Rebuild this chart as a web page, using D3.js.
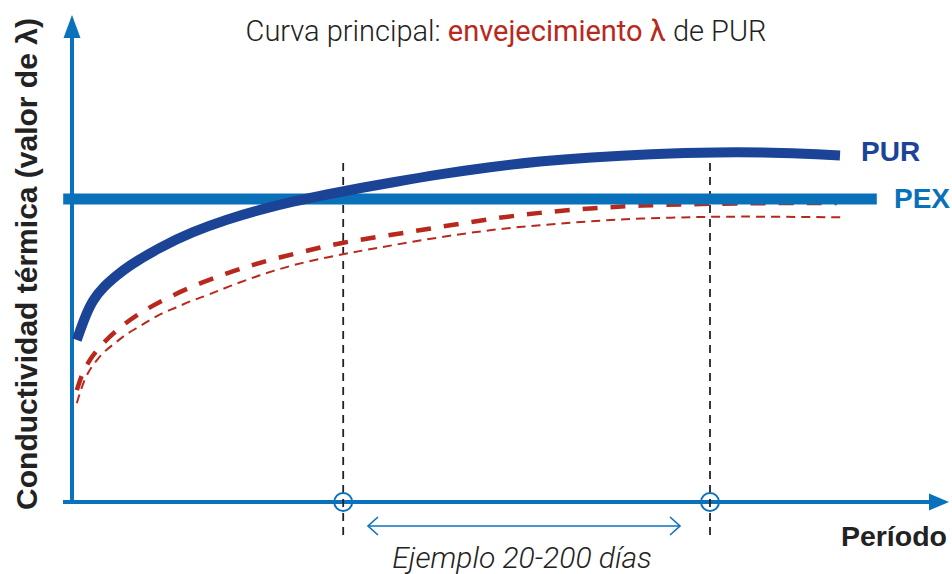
<!DOCTYPE html>
<html>
<head>
<meta charset="utf-8">
<script src="https://cdn.jsdelivr.net/npm/d3@7"></script>
<style>
  html, body { margin: 0; padding: 0; background: #fff; }
  svg { display: block; }
</style>
</head>
<body>
<svg id="chart" width="952" height="574"></svg>
<script>
// ---------------- DATA ----------------
// Period (arbitrary units, 0-100) and thermal conductivity (relative, 0-100)
const purX   = [0.6, 1.6, 2.6, 3.9, 5.6, 6.9, 11.0, 15.1, 19.4, 23.5, 27.6, 31.9, 36.0, 39.75, 46.0, 52.25, 58.5, 64.75, 72.25, 80.6, 88.9, 96.0];
const purY   = [33.75, 38.5, 42.1, 44.8, 47.2, 49.0, 53.1, 56.3, 58.9, 60.9, 62.6, 64.1, 65.4, 66.5, 68.3, 69.8, 71.0, 71.8, 72.5, 72.9, 72.8, 72.2];

const pexX   = [-1.1, 100.6];
const pexY   = [63.1, 63.1];

const agingThickX = [0.6, 1.6, 3.9, 6.6, 9.5, 12.6, 16.0, 19.4, 22.6, 26.0, 29.75, 33.5, 39.75, 46.0, 52.25, 58.5, 64.75, 71.0, 78.5, 87.25, 95.6];
const agingThickY = [23.3, 28.5, 33.3, 37.3, 40.4, 43.1, 45.6, 47.7, 49.4, 51.0, 52.5, 54.0, 55.6, 57.3, 59.0, 60.3, 61.2, 61.8, 62.1, 62.3, 62.3];

const agingThinX = [0.6, 1.6, 2.6, 3.9, 5.4, 6.6, 8.1, 9.75, 11.25, 12.9, 15.1, 16.4, 19.4, 23.5, 27.6, 31.9, 36.0, 39.75, 46.0, 52.25, 58.5, 64.75, 71.0, 78.5, 84.75, 96.6];
const agingThinY = [20.6, 26.0, 28.5, 31.25, 33.1, 34.8, 36.25, 37.9, 39.4, 40.4, 42.1, 42.7, 44.8, 47.3, 49.4, 51.0, 52.3, 53.4, 55.2, 56.7, 57.7, 58.5, 59.1, 59.4, 59.5, 59.3];

const markerX     = [33.9, 79.75];           // 20 días, 200 días
const markerTop   = 70.6;
const markerBot   = -7.3;
const rangeArrowX = [37, 76];
const rangeArrowY = -5;

const seriesLabels = ["PUR", "PEX"];
const titleParts   = ["Curva principal: ", "envejecimiento λ", " de PUR"];
const yAxisLabel   = "Conductividad térmica (valor de λ)";
const xAxisLabel   = "Período";
const rangeLabel   = "Ejemplo 20-200 días";

// ---------------- SETUP ----------------
const svg = d3.select("#chart");
const x = d3.scaleLinear().domain([0, 100]).range([72, 872]);
const y = d3.scaleLinear().domain([0, 100]).range([502, 22]);

const C_AXIS = "#0a72bd";
const C_PEX  = "#0871b9";
const C_PUR  = "#1b4496";
const C_RED  = "#b8281d";
const C_TEXT = "#222222";

const zip = (a, b) => a.map((v, i) => [v, b[i]]);
const line = d3.line().x(d => x(d[0])).y(d => y(d[1])).curve(d3.curveBasis);

// ---------------- AXES ----------------
const axisG = svg.append("g");
axisG.append("line")
  .attr("x1", x(0)).attr("x2", x(0))
  .attr("y1", y(0) + 2).attr("y2", 36)
  .attr("stroke", C_AXIS).attr("stroke-width", 4);
axisG.append("path")
  .attr("d", `M${x(0)},15 L${x(0) + 8.5},38 L${x(0) - 8.5},38 Z`)
  .attr("fill", C_AXIS);
axisG.append("line")
  .attr("x1", 63).attr("x2", 932)
  .attr("y1", y(0)).attr("y2", y(0))
  .attr("stroke", C_AXIS).attr("stroke-width", 4);
axisG.append("path")
  .attr("d", `M949,${y(0)} L929,${y(0) - 8.5} L929,${y(0) + 8.5} Z`)
  .attr("fill", C_AXIS);

// ---------------- MARKER LINES ----------------
svg.selectAll(".marker").data(markerX).enter().append("line")
  .attr("class", "marker")
  .attr("x1", d => x(d)).attr("x2", d => x(d))
  .attr("y1", y(markerTop)).attr("y2", y(markerBot))
  .attr("stroke", "#222").attr("stroke-width", 1.8)
  .attr("stroke-dasharray", "8,6");

// ---------------- SERIES ----------------
svg.append("path").datum(zip(agingThinX, agingThinY))
  .attr("d", line).attr("fill", "none")
  .attr("stroke", C_RED).attr("stroke-width", 2)
  .attr("stroke-dasharray", "9,6");

svg.append("path").datum(zip(agingThickX, agingThickY))
  .attr("d", line).attr("fill", "none")
  .attr("stroke", C_RED).attr("stroke-width", 4.5)
  .attr("stroke-dasharray", "15,13");

svg.append("path").datum(zip(pexX, pexY))
  .attr("d", d3.line().x(d => x(d[0])).y(d => y(d[1])))
  .attr("fill", "none")
  .attr("stroke", C_PEX).attr("stroke-width", 11);

svg.append("path").datum(zip(purX, purY))
  .attr("d", line).attr("fill", "none")
  .attr("stroke", C_PUR).attr("stroke-width", 10);

svg.selectAll(".mcirc").data(markerX).enter().append("circle")
  .attr("class", "mcirc")
  .attr("cx", d => x(d)).attr("cy", y(0)).attr("r", 9)
  .attr("fill", "none").attr("stroke", C_AXIS).attr("stroke-width", 2);

// ---------------- RANGE ARROW ----------------
const ax1 = x(rangeArrowX[0]), ax2 = x(rangeArrowX[1]), ay = y(rangeArrowY);
svg.append("line")
  .attr("x1", ax1).attr("x2", ax2).attr("y1", ay).attr("y2", ay)
  .attr("stroke", C_AXIS).attr("stroke-width", 1.6);
svg.append("path")
  .attr("d", `M${ax1 + 10},${ay - 9} L${ax1},${ay} L${ax1 + 10},${ay + 9}`)
  .attr("fill", "none").attr("stroke", C_AXIS).attr("stroke-width", 1.6);
svg.append("path")
  .attr("d", `M${ax2 - 10},${ay - 9} L${ax2},${ay} L${ax2 - 10},${ay + 9}`)
  .attr("fill", "none").attr("stroke", C_AXIS).attr("stroke-width", 1.6);

svg.append("text")
  .attr("x", 522).attr("y", 568)
  .attr("text-anchor", "middle")
  .attr("font-family", "Roboto, 'Liberation Sans', sans-serif")
  .attr("font-weight", 300)
  .attr("font-style", "italic")
  .attr("font-size", 30)
  .attr("fill", C_TEXT)
  .text(rangeLabel);

// ---------------- TEXT ----------------
const title = svg.append("text")
  .attr("x", 506).attr("y", 41)
  .attr("text-anchor", "middle")
  .attr("font-family", "Roboto, 'Liberation Sans', sans-serif")
  .attr("font-weight", 300)
  .attr("font-size", 29)
  .attr("fill", C_TEXT);
title.selectAll("tspan").data(titleParts).enter().append("tspan")
  .attr("fill", (d, i) => i === 1 ? C_RED : C_TEXT)
  .attr("font-weight", (d, i) => i === 1 ? 400 : 300)
  .text(d => d);

svg.append("text")
  .attr("transform", "translate(37,264) rotate(-90)")
  .attr("text-anchor", "middle")
  .attr("font-family", "'Liberation Sans', Arial, sans-serif")
  .attr("font-weight", "bold")
  .attr("font-size", 30)
  .attr("fill", C_TEXT)
  .text(yAxisLabel);

svg.append("text")
  .attr("x", 947).attr("y", 546)
  .attr("text-anchor", "end")
  .attr("font-family", "'Liberation Sans', Arial, sans-serif")
  .attr("font-weight", "bold")
  .attr("font-size", 28.5)
  .attr("fill", C_TEXT)
  .text(xAxisLabel);

svg.append("text")
  .attr("x", 861).attr("y", 161)
  .attr("font-family", "'Liberation Sans', Arial, sans-serif")
  .attr("font-weight", "bold")
  .attr("font-size", 28)
  .attr("fill", C_PUR)
  .text(seriesLabels[0]);

svg.append("text")
  .attr("x", 894).attr("y", 208)
  .attr("font-family", "'Liberation Sans', Arial, sans-serif")
  .attr("font-weight", "bold")
  .attr("font-size", 28)
  .attr("fill", C_PEX)
  .text(seriesLabels[1]);
</script>
</body>
</html>
